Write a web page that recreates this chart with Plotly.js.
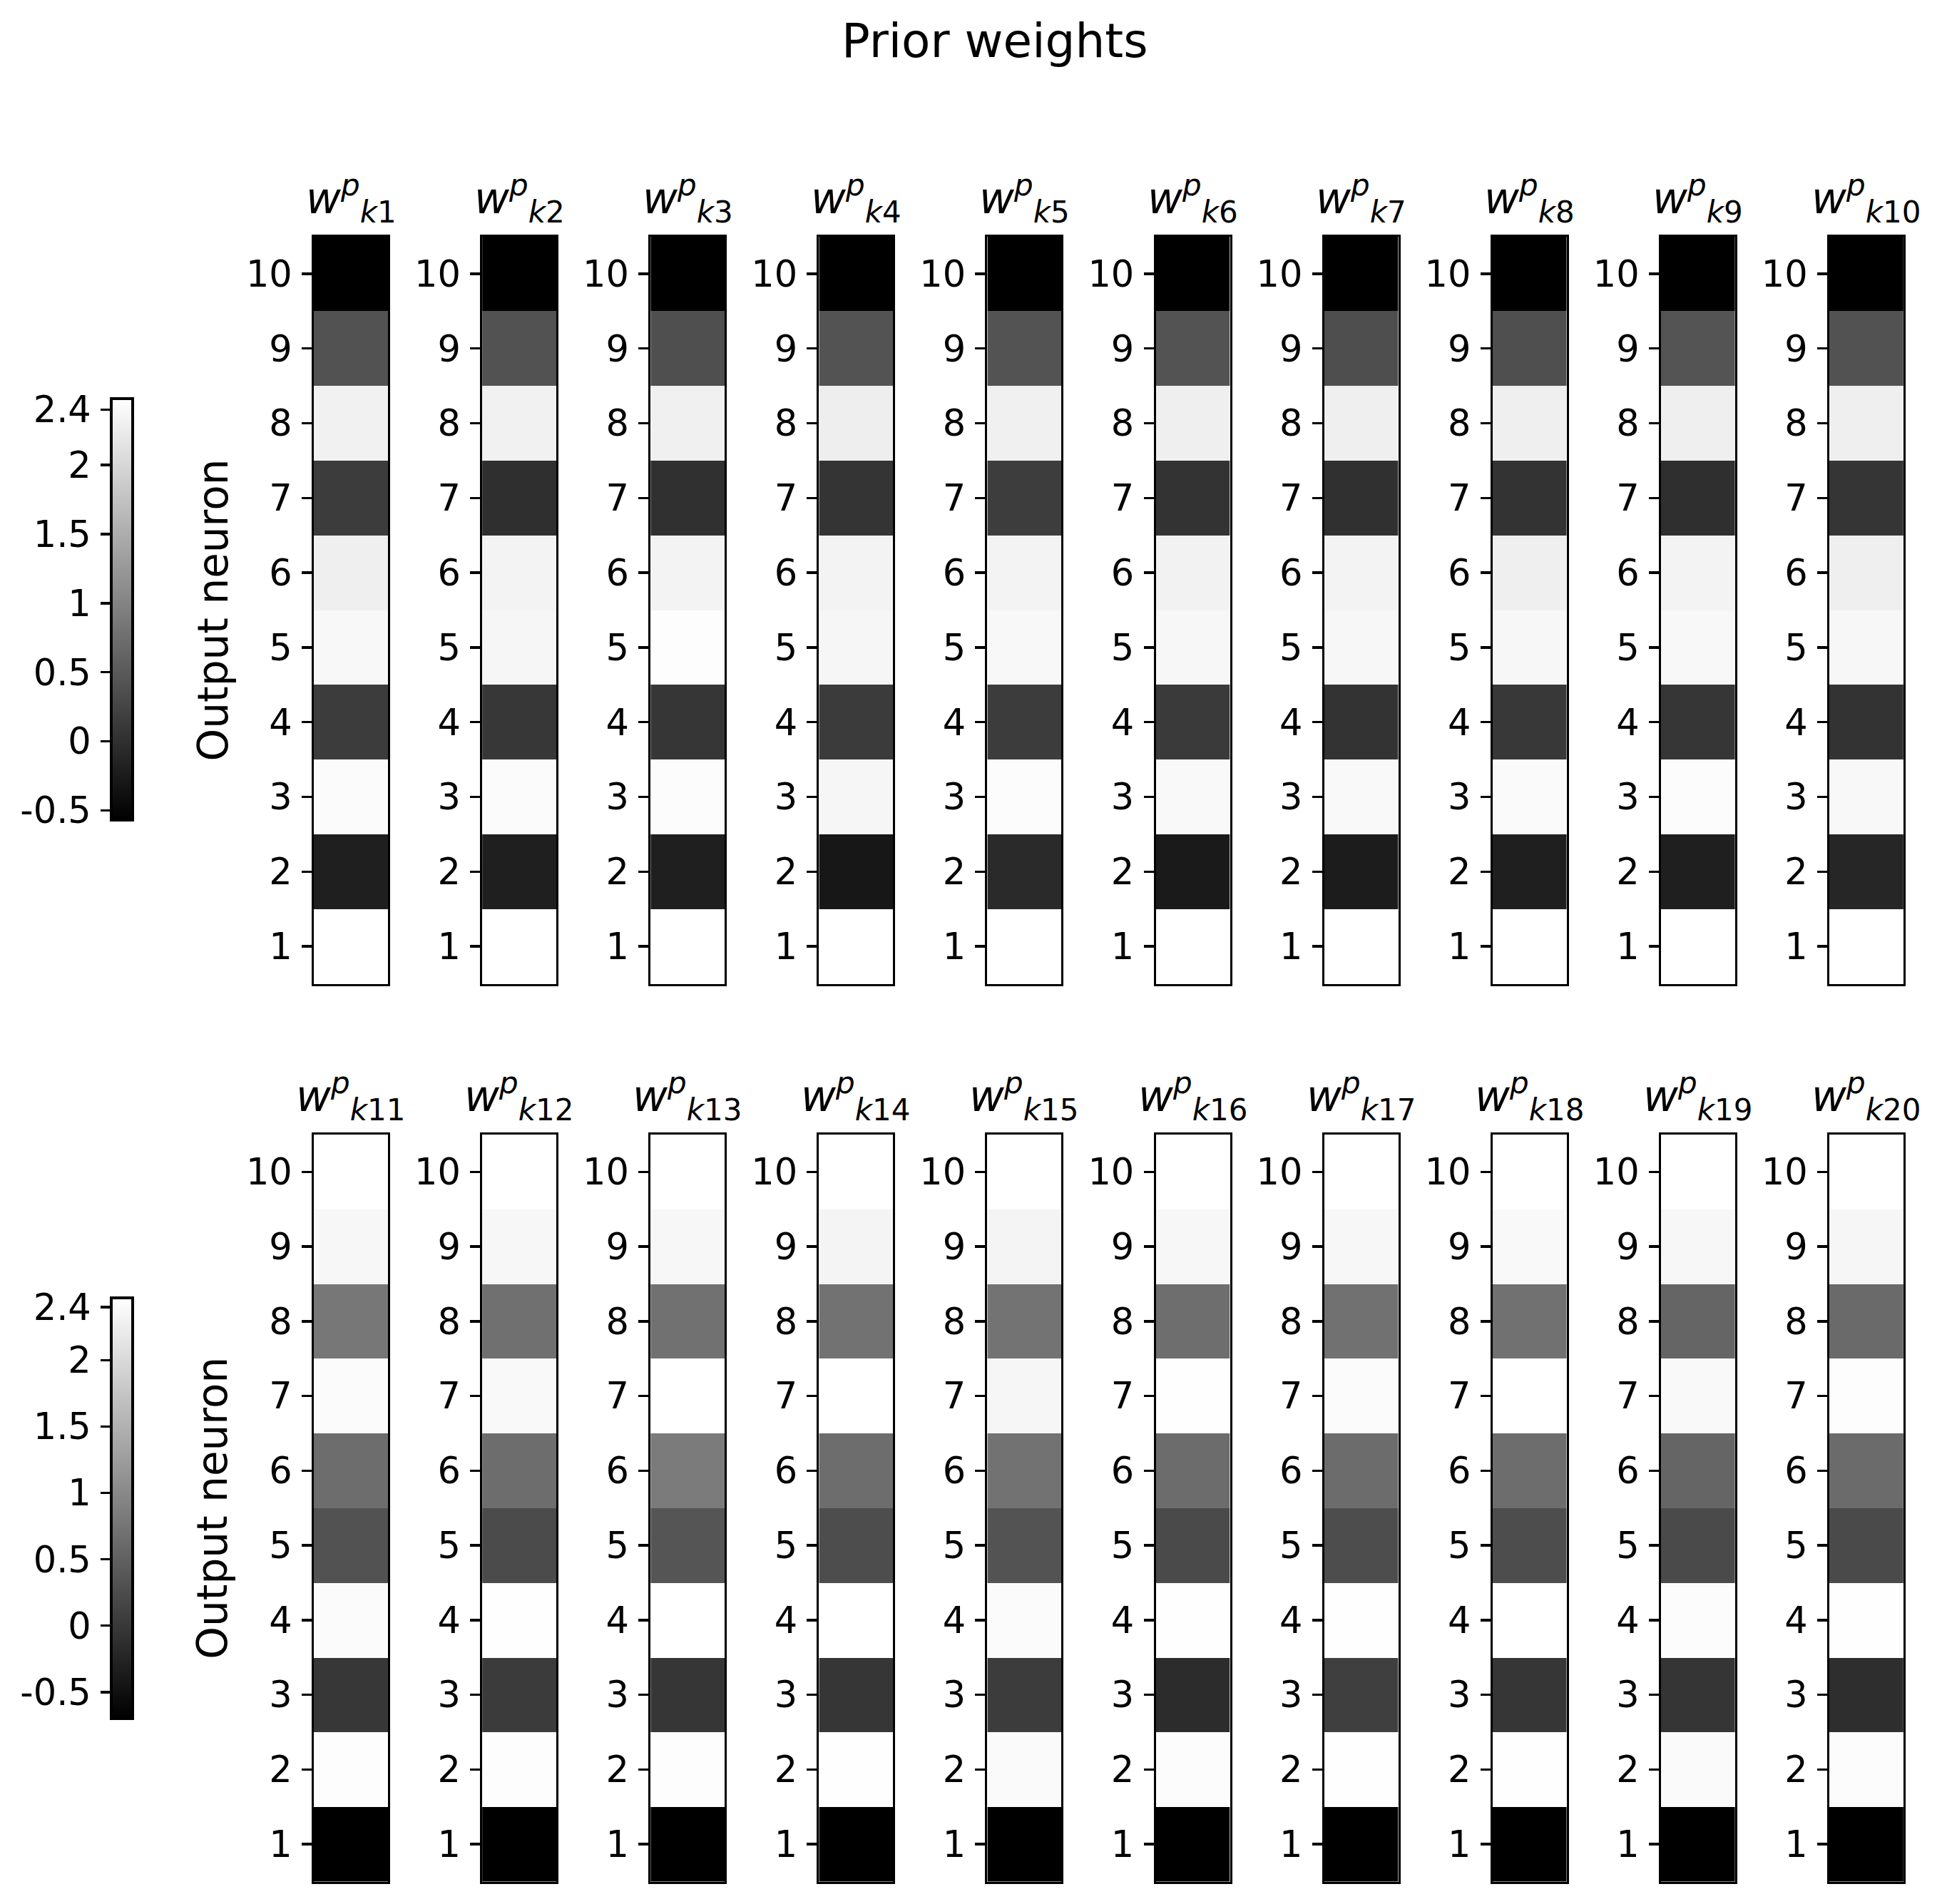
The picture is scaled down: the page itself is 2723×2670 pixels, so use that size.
<!DOCTYPE html>
<html>
<head>
<meta charset="utf-8">
<script src="https://cdn.plot.ly/plotly-3.0.1.min.js"></script>
<style>html,body{margin:0;padding:0;background:#fff;}#chart{width:2723px;height:2670px;}</style>
</head>
<body>
<div id="chart"></div>
<script>
// ---- data ----
const neurons = [1, 2, 3, 4, 5, 6, 7, 8, 9, 10];
const topIndex = [1, 2, 3, 4, 5, 6, 7, 8, 9, 10];
const bottomIndex = [11, 12, 13, 14, 15, 16, 17, 18, 19, 20];
const cbTickVals = [-0.5, 0, 0.5, 1, 1.5, 2, 2.4];
const cbTickText = ['-0.5', '0', '0.5', '1', '1.5', '2', '2.4'];
const topRange = [-0.57, 2.48];
const bottomRange = [-0.70, 2.47];

// prior weights, output neuron 1..10
const wk1  = [2.48, -0.20, 2.43, 0.15, 2.40, 2.29, 0.15, 2.31, 0.41, -0.57];
const wk2  = [2.48, -0.20, 2.43, 0.09, 2.37, 2.34, -0.01, 2.31, 0.41, -0.57];
const wk3  = [2.48, -0.20, 2.44, 0.07, 2.46, 2.34, 0.00, 2.30, 0.38, -0.57];
const wk4  = [2.48, -0.30, 2.37, 0.13, 2.37, 2.34, 0.05, 2.28, 0.42, -0.57];
const wk5  = [2.48, -0.07, 2.44, 0.15, 2.40, 2.34, 0.16, 2.30, 0.42, -0.57];
const wk6  = [2.48, -0.26, 2.41, 0.12, 2.38, 2.33, 0.04, 2.29, 0.42, -0.57];
const wk7  = [2.48, -0.24, 2.41, 0.04, 2.38, 2.34, 0.00, 2.29, 0.36, -0.57];
const wk8  = [2.48, -0.20, 2.42, 0.10, 2.38, 2.29, 0.04, 2.29, 0.37, -0.57];
const wk9  = [2.48, -0.20, 2.44, 0.07, 2.40, 2.34, -0.01, 2.29, 0.43, -0.57];
const wk10 = [2.48, -0.12, 2.40, 0.04, 2.38, 2.29, 0.06, 2.29, 0.41, -0.57];
const wk11 = [-0.70, 2.45, -0.02, 2.42, 0.32, 0.65, 2.42, 0.78, 2.37, 2.47];
const wk12 = [-0.70, 2.45, 0.03, 2.46, 0.23, 0.65, 2.40, 0.69, 2.37, 2.47];
const wk13 = [-0.70, 2.45, -0.03, 2.47, 0.36, 0.83, 2.47, 0.70, 2.37, 2.47];
const wk14 = [-0.70, 2.46, -0.03, 2.47, 0.26, 0.65, 2.47, 0.72, 2.33, 2.47];
const wk15 = [-0.70, 2.41, 0.05, 2.42, 0.33, 0.72, 2.36, 0.73, 2.33, 2.47];
const wk16 = [-0.70, 2.43, -0.15, 2.46, 0.22, 0.64, 2.46, 0.67, 2.37, 2.47];
const wk17 = [-0.70, 2.46, 0.08, 2.46, 0.26, 0.64, 2.42, 0.70, 2.37, 2.47];
const wk18 = [-0.70, 2.46, -0.03, 2.47, 0.26, 0.65, 2.47, 0.70, 2.40, 2.47];
const wk19 = [-0.70, 2.41, -0.04, 2.43, 0.22, 0.55, 2.40, 0.55, 2.37, 2.47];
const wk20 = [-0.70, 2.43, -0.13, 2.46, 0.22, 0.63, 2.45, 0.62, 2.36, 2.47];

const topWeights = [wk1, wk2, wk3, wk4, wk5, wk6, wk7, wk8, wk9, wk10];
const bottomWeights = [wk11, wk12, wk13, wk14, wk15, wk16, wk17, wk18, wk19, wk20];

// ---- layout geometry (pixels) ----
const W = 2723, H = 2670;
const fx = p => p / W;
const fy = p => 1 - p / H;
const FONT = 'DejaVu Sans, Liberation Sans, sans-serif';
const panelLeft0 = 440, panelStep = 236.1, panelW = 104;
const rows = [
  {top: 331.5, bottom: 1379.5, idx: topIndex, weights: topWeights, ca: 'coloraxis', range: topRange,
   cb: {top: 559, bottom: 1150}},
  {top: 1591, bottom: 2638.5, idx: bottomIndex, weights: bottomWeights, ca: 'coloraxis2', range: bottomRange,
   cb: {top: 1820, bottom: 2410}}
];
const cbLeft = 156, cbW = 30;

const gray = [[0, '#000000'], [1, '#ffffff']];
const traces = [];
const layout = {
  width: W, height: H,
  margin: {l: 0, r: 0, t: 0, b: 0},
  paper_bgcolor: '#ffffff', plot_bgcolor: '#ffffff',
  showlegend: false,
  font: {family: FONT, color: '#000000', size: 50},
  annotations: []
};

let n = 0;
rows.forEach((row, r) => {
  row.weights.forEach((w, i) => {
    n += 1;
    const ax = n === 1 ? '' : String(n);
    const x0 = panelLeft0 + i * panelStep;
    traces.push({
      type: 'heatmap',
      x: [0],
      y: neurons,
      z: w.map(v => [v]),
      coloraxis: row.ca,
      xaxis: 'x' + ax, yaxis: 'y' + ax,
      hoverinfo: 'z+y'
    });
    layout['xaxis' + ax] = {
      domain: [fx(x0), fx(x0 + panelW)], anchor: 'y' + ax,
      range: [-0.5, 0.5], showticklabels: false, ticks: '',
      showgrid: false, zeroline: false,
      showline: true, mirror: true, linecolor: '#000000', linewidth: 3
    };
    layout['yaxis' + ax] = {
      domain: [fy(row.bottom), fy(row.top)], anchor: 'x' + ax,
      range: [0.5, 10.5],
      tickmode: 'array', tickvals: neurons, ticktext: neurons.map(String),
      ticks: 'outside', ticklen: 14, tickwidth: 3.5, tickcolor: '#000000',
      ticklabelstandoff: 3,
      tickfont: {family: FONT, size: 51, color: '#000000'},
      showgrid: false, zeroline: false,
      showline: true, mirror: true, linecolor: '#000000', linewidth: 3
    };
    layout.annotations.push({
      xref: 'paper', yref: 'paper',
      x: fx(x0 + panelW / 2), y: fy(row.top),
      xanchor: 'center', yanchor: 'bottom', yshift: 8,
      showarrow: false,
      text: '<i>w</i><sup><i>p</i></sup><sub><i>k</i>' + row.idx[i] + '</sub>',
      font: {family: FONT, size: 60, color: '#000000'}
    });
  });

  // colour axis with its bar
  const cbH = row.cb.bottom - row.cb.top;
  layout[row.ca] = {
    cmin: row.range[0], cmax: row.range[1],
    colorscale: gray,
    colorbar: {
      x: fx(cbLeft), xanchor: 'left', xpad: 0,
      y: fy(row.cb.top), yanchor: 'top', ypad: 0,
      len: cbH, lenmode: 'pixels',
      thickness: cbW, thicknessmode: 'pixels',
      outlinewidth: 4, outlinecolor: '#000000',
      showticklabels: false, ticks: ''
    }
  };

  // helper axis carrying the colour bar ticks on its left side
  const cx = 'x' + (21 + r), cy = 'y' + (21 + r);
  traces.push({type: 'scatter', mode: 'markers', x: [], y: [], xaxis: cx, yaxis: cy, hoverinfo: 'skip'});
  layout['xaxis' + (21 + r)] = {
    domain: [fx(cbLeft), fx(cbLeft + cbW)], anchor: cy, visible: false, range: [0, 1]
  };
  layout['yaxis' + (21 + r)] = {
    domain: [fy(row.cb.bottom), fy(row.cb.top)], anchor: cx, side: 'left',
    range: row.range, tickmode: 'array', tickvals: cbTickVals, ticktext: cbTickText,
    ticks: 'outside', ticklen: 14, tickwidth: 3.5, tickcolor: '#000000',
    ticklabelstandoff: 3,
    tickfont: {family: FONT, size: 51, color: '#000000'},
    showgrid: false, zeroline: false, showline: false
  };

  // row axis label
  layout.annotations.push({
    xref: 'paper', yref: 'paper',
    x: fx(298), y: fy((row.top + row.bottom) / 2),
    xanchor: 'center', yanchor: 'middle', textangle: -90,
    showarrow: false, text: 'Output neuron',
    font: {family: FONT, size: 58, color: '#000000'}
  });
});

layout.annotations.push({
  xref: 'paper', yref: 'paper', x: fx(1395), y: fy(58),
  xanchor: 'center', yanchor: 'middle', showarrow: false,
  text: 'Prior weights',
  font: {family: FONT, size: 66, color: '#000000'}
});

Plotly.newPlot('chart', traces, layout, {displayModeBar: false, staticPlot: true});
</script>
</body>
</html>
